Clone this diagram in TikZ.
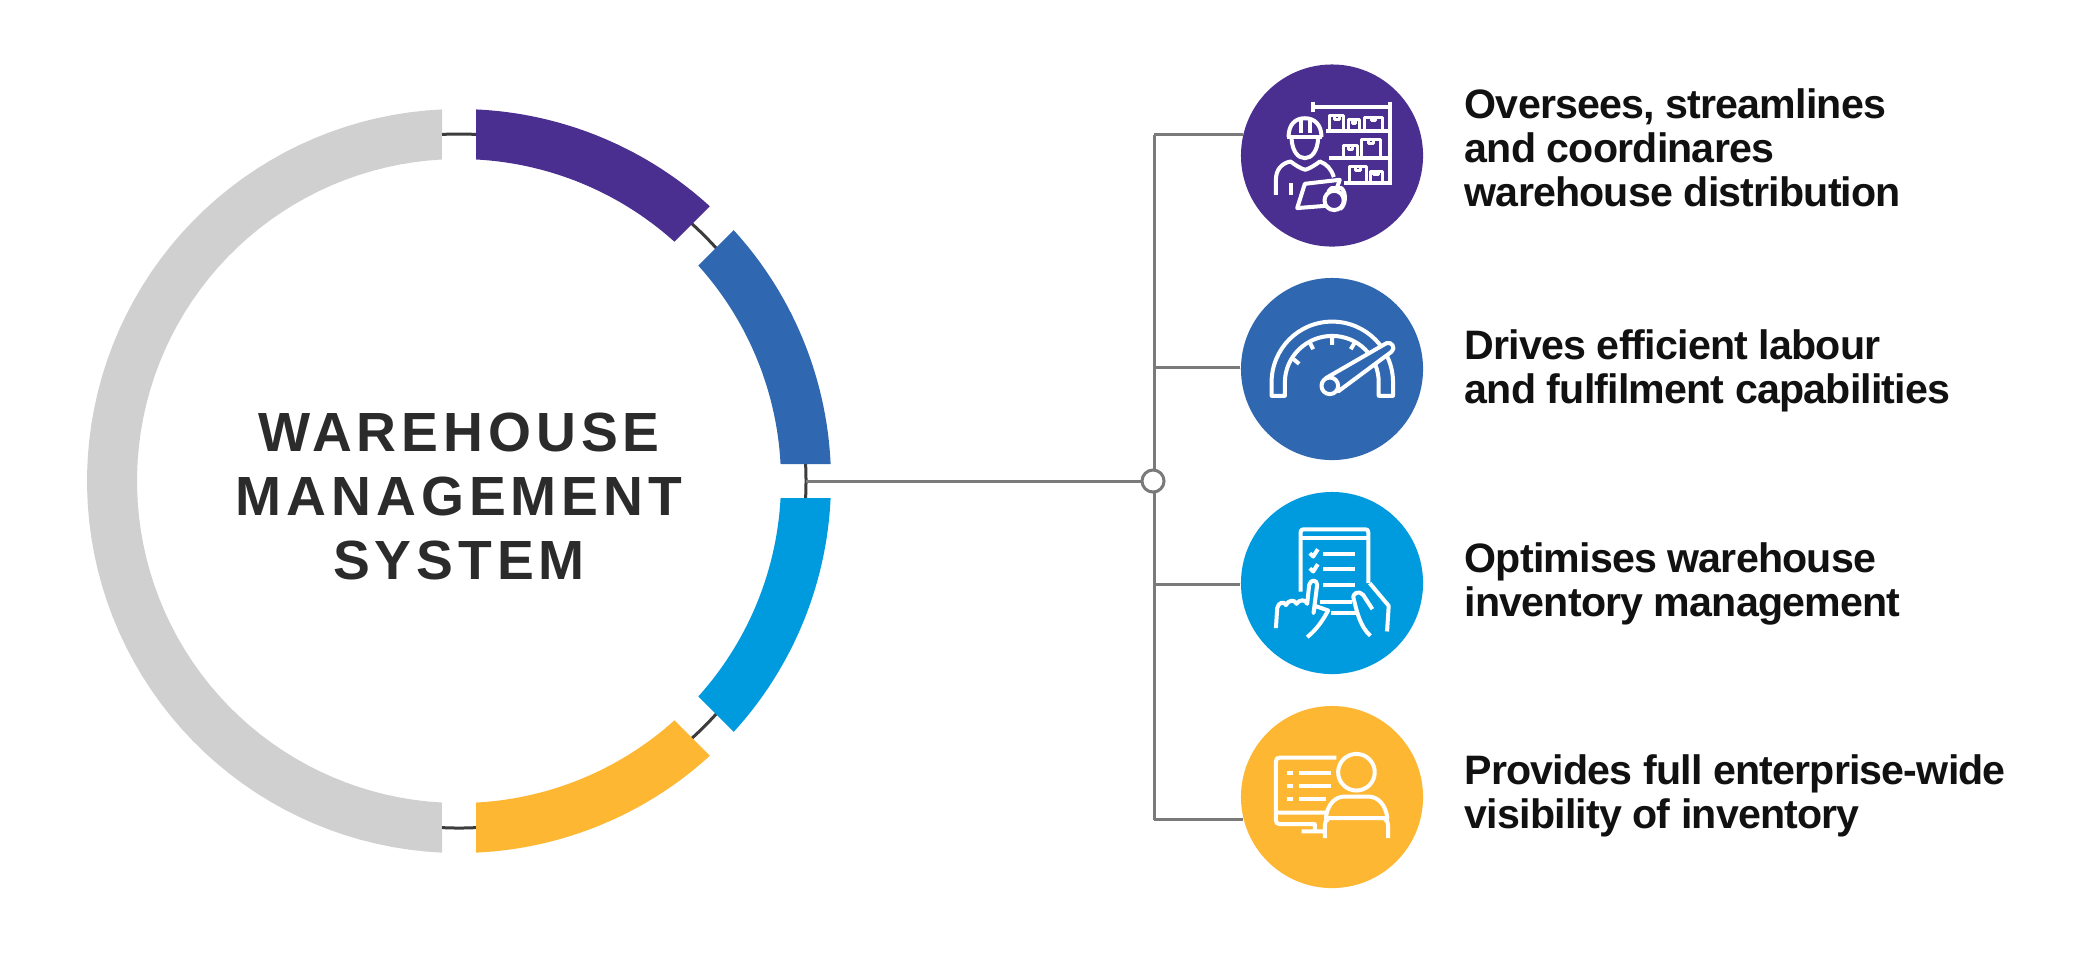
\documentclass[tikz,border=0pt]{standalone}
\usepackage{fontspec}
\setmainfont{Liberation Sans}
\newfontfamily\titlefont[LetterSpace=9,BoldFont={Liberation Sans Bold}]{Liberation Sans}
\newfontfamily\itemfont[LetterSpace=-2,BoldFont={Liberation Sans Bold}]{Liberation Sans}
\definecolor{cpurple}{HTML}{4A2F90}
\definecolor{cblue}{HTML}{2F67B1}
\definecolor{csky}{HTML}{009BDE}
\definecolor{corange}{HTML}{FDB733}
\definecolor{cgrey}{HTML}{D0D0D0}
\definecolor{cdark}{HTML}{3C3C3C}
\definecolor{cline}{HTML}{7A7A7A}
\definecolor{ctext}{HTML}{111111}
\definecolor{ctitle}{HTML}{2B2B2B}
\newcommand{\ringseg}[5]{\fill[#1] plot[domain=#2:#3,samples=70] ({459+372*cos(\x)},{481-372*sin(\x)}) -- plot[domain=#5:#4,samples=70] ({459+322*cos(\x)},{481-322*sin(\x)}) -- cycle;}
\tikzset{
  iconbg/.style={circle,minimum size=1.82cm,inner sep=0pt,fill=#1},
  item/.style={anchor=west,align=left,inner sep=0pt,text=ctext,font=\fontsize{11.7pt}{12.5pt}\selectfont\itemfont\bfseries},
  conn/.style={draw=cline,line width=0.03cm},
  glyph/.style={draw=white,line width=0.04cm,line join=round},
  fineglyph/.style={line width=0.03cm},
  izoom/.style={shift={#1},x=0.0033333cm,y=-0.0033333cm}
}
\begin{document}
\begin{tikzpicture}[x=0.01cm,y=-0.01cm]
\useasboundingbox[fill=white] (0,0) rectangle (2080,953);
% ring
\draw[cdark,line width=0.03cm] (459,481) circle[radius=347];
\ringseg{cpurple}{87.38}{47.6}{86.97}{48}
\ringseg{cblue}{42.4}{2.62}{42}{3.03}
\ringseg{csky}{-2.62}{-42.4}{-3.03}{-42}
\ringseg{corange}{-47.6}{-87.38}{-48}{-86.97}
\ringseg{cgrey}{92.62}{267.38}{93.03}{266.97}
\node[align=center,inner sep=0pt,text=ctitle,font=\fontsize{15.7pt}{18.2pt}\selectfont\titlefont\bfseries] (hub) at (459,496) {WAREHOUSE\\MANAGEMENT\\SYSTEM};
% nodes
\node[iconbg=cpurple] (icon1) at (1332,155.5) {};
\node[iconbg=cblue] (icon2) at (1332,369) {};
\node[iconbg=csky] (icon3) at (1332,583) {};
\node[iconbg=corange] (icon4) at (1332,797) {};
\coordinate (ringout) at (806,481);
\coordinate (trunk) at (1154,481);
\coordinate (ttop) at (1154,135);
\coordinate (tbot) at (1154,820);
\draw[conn] (ttop) -- (tbot);
\draw[conn] (ringout) -- (trunk);
\node[circle,draw=cline,fill=white,line width=0.03cm,minimum size=0.22cm,inner sep=0pt] (junction) at (1153,481) {};
\draw[conn] (icon1.167) -- (icon1.167 -| trunk);
\draw[conn] (icon2.179) -- (icon2.179 -| trunk);
\draw[conn] (icon3.181) -- (icon3.181 -| trunk);
\draw[conn] (icon4.194.6) -- (icon4.194.6 -| trunk);
\node[item] (t1) at (1464,148) {Oversees, streamlines\\and coordinares\\warehouse distribution};
\node[item] (t2) at (1464,371) {Drives efficient labour\\and fulfilment capabilities};
\node[item] (t3) at (1464,584) {Optimises warehouse\\inventory management};
\node[item] (t4) at (1464,796) {Provides full enterprise-wide\\visibility of inventory};
% icon 1
\begin{scope}[izoom={(1200,40)},glyph]
\draw (338,185)--(338,215) (338,200)--(570,200) (570,185)--(570,435);
\draw (380,272)--(570,272) (388,355)--(570,355) (432,430)--(570,430);
\begin{scope}[fineglyph]
\draw (388,272)--(388,228)--(432,228)--(432,272) (405,228)--(405,240)--(420,240)--(420,228);
\draw (447,272)--(447,240)--(480,240)--(480,272) (458,240)--(458,250)--(468,250)--(468,240);
\draw (495,272)--(495,232)--(548,232)--(548,272) (515,232)--(515,242)--(528,242)--(528,232);
\draw (432,355)--(432,318)--(472,318)--(472,355) (447,318)--(447,328)--(458,328)--(458,318);
\draw (485,355)--(485,300)--(542,300)--(542,355) (505,300)--(505,312)--(520,312)--(520,300);
\draw (450,430)--(450,380)--(500,380)--(500,430) (468,380)--(468,392)--(482,392)--(482,380);
\draw (512,430)--(512,395)--(548,395)--(548,430) (522,395)--(522,405)--(535,405)--(535,395);
\end{scope}
\draw (262,292)--(368,292);
\draw (266,292) .. controls (266,255) and (285,235) .. (315,235) .. controls (345,235) and (365,255) .. (365,292);
\draw (303,240)--(303,278) (330,240)--(330,278);
\draw (275,295) .. controls (277,335) and (295,355) .. (315,355) .. controls (335,355) and (353,335) .. (355,295);
\draw (228,465)--(228,420) .. controls (228,390) and (245,370) .. (272,365) .. controls (285,375) and (300,385) .. (316,390) .. controls (332,385) and (347,375) .. (360,365) .. controls (380,372) and (395,388) .. (402,412);
\draw (273,430)--(273,465);
\draw (380,498)--(292,505)--(315,432)--(420,420)--(410,448);
\draw (403,482) circle[radius=29];
\draw (385,456)--(395,445)--(425,445) .. controls (442,460) and (437,500) .. (420,508);
\end{scope}
% icon 2
\begin{scope}[izoom={(1200,260)},glyph]
\draw (215,408)--(215,368) .. controls (215,267) and (296,185) .. (397,185) .. controls (498,185) and (580,267) .. (580,368)--(580,408)--(537,408)--(537,368) .. controls (537,290) and (475,228) .. (397,228) .. controls (320,228) and (255,290) .. (255,368)--(255,408)--cycle;
\draw (281,298)--(298,312) (330,248)--(340,268) (397,232)--(397,255) (465,248)--(453,268);
\draw[fill=cblue] (378,355)--(560,250) .. controls (575,243) and (590,265) .. (575,276)--(415,395)--cycle;
\draw[fill=cblue] (390,378) circle[radius=25];
\end{scope}
% icon 3
\begin{scope}[izoom={(1200,480)},glyph]
\draw (302,335)--(302,158) .. controls (302,150) and (306,148) .. (312,148)--(496,148) .. controls (502,148) and (506,150) .. (506,158)--(506,310);
\draw (302,175)--(506,175);
\draw (330,220)--(340,230)--(354,208) (330,265)--(340,275)--(354,253);
\draw (370,222)--(467,222) (370,267)--(467,267) (370,314)--(467,314);
\draw (360,367)--(458,367) (395,400)--(472,400);
\draw (228,445)--(232,385) .. controls (234,368) and (255,362) .. (258,376) .. controls (265,360) and (285,358) .. (290,372) .. controls (298,358) and (318,358) .. (322,372)--(328,315) .. controls (332,298) and (352,298) .. (352,315)--(341,400)--(345,378)--(385,392) .. controls (370,420) and (350,450) .. (322,472);
\draw (510,310)--(567,378)--(562,455);
\draw (518,388)--(490,345) .. controls (478,330) and (455,340) .. (462,358) .. controls (470,390) and (480,440) .. (512,468);
\end{scope}
% icon 4
\begin{scope}[izoom={(1200,690)},glyph]
\draw (410,203)--(240,203) .. controls (232,203) and (228,207) .. (228,215)--(228,392) .. controls (228,399) and (232,403) .. (240,403)--(345,403)--(345,425) (305,425)--(372,425) (232,368)--(380,368);
\draw (260,248)--(278,248) (260,288)--(278,288) (260,328)--(278,328);
\draw (298,248)--(395,248) (298,288)--(395,288) (298,328)--(380,328);
\draw (470,247) circle[radius=55];
\draw (378,385) .. controls (382,345) and (405,320) .. (435,320)--(505,320) .. controls (535,320) and (558,345) .. (563,385)--cycle;
\draw (375,445)--(375,405) .. controls (375,397) and (378,392) .. (385,388) (565,445)--(565,405) .. controls (565,397) and (562,392) .. (555,388);
\end{scope}
\end{tikzpicture}
\end{document}
